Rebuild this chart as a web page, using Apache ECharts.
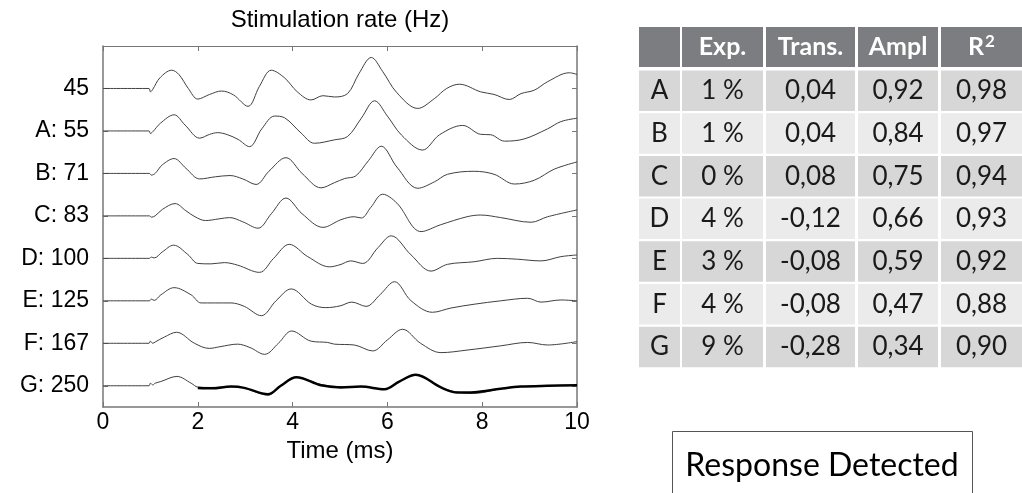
<!DOCTYPE html>
<html>
<head>
<meta charset="utf-8">
<script src="https://cdn.jsdelivr.net/npm/echarts@6/dist/echarts.min.js"></script>
<style>
  html, body { margin: 0; padding: 0; background: #fff; }
  #main { width: 1022px; height: 493px; }
</style>
</head>
<body>
<div id="main"></div>
<script>
// trace labels, top to bottom
const rateLabels = ["45", "A: 55", "B: 71", "C: 83", "D: 100", "E: 125", "F: 167", "G: 250"];
const xTicks = [0, 2, 4, 6, 8, 10];

// waveforms: [time ms, amplitude], amplitude in units of trace spacing
const trace45 = [[0,0],[0.97,0],[1.0,-0.08],[1.05,-0.02],[1.2,0.25],[1.45,0.43],[1.6,0.33],[1.8,0.0],[2.0,-0.25],[2.25,-0.14],[2.5,-0.06],[2.75,-0.15],[3.06,-0.42],[3.3,0.05],[3.55,0.43],[3.83,0.25],[4.1,-0.08],[4.39,-0.27],[4.64,-0.17],[4.88,-0.2],[5.16,-0.12],[5.4,0.35],[5.66,0.73],[5.9,0.4],[6.2,-0.1],[6.64,-0.47],[6.99,-0.24],[7.25,0.0],[7.52,0.1],[7.97,-0.08],[8.25,-0.14],[8.57,-0.26],[8.82,-0.12],[9.1,-0.04],[9.38,0.16],[9.84,0.37],[10,0.33]];
const traceA = [[0,0],[0.97,0],[1.0,-0.06],[1.05,-0.02],[1.21,0.18],[1.5,0.38],[1.73,0.14],[2.04,-0.17],[2.25,-0.08],[2.42,-0.04],[2.63,-0.09],[2.85,-0.2],[3.09,-0.37],[3.35,0.05],[3.62,0.35],[3.83,0.31],[4.18,-0.05],[4.46,-0.29],[4.88,-0.21],[5.16,-0.13],[5.45,0.3],[5.73,0.71],[6.0,0.35],[6.3,-0.1],[6.74,-0.45],[7.1,-0.09],[7.59,0.13],[7.97,-0.08],[8.18,-0.09],[8.47,-0.24],[8.88,-0.19],[9.38,0.05],[9.66,0.22],[10,0.3]];
const traceB = [[0,0],[0.98,0],[1.02,-0.04],[1.1,0.0],[1.25,0.2],[1.5,0.35],[1.75,0.12],[2.04,-0.13],[2.37,-0.08],[2.68,-0.05],[2.95,-0.13],[3.23,-0.26],[3.5,0.05],[3.86,0.37],[4.2,0.0],[4.6,-0.34],[4.88,-0.22],[5.1,-0.12],[5.33,-0.06],[5.6,0.3],[5.87,0.64],[6.2,0.15],[6.64,-0.35],[6.99,-0.2],[7.27,-0.02],[7.83,0.05],[8.25,-0.02],[8.68,-0.25],[9.1,-0.16],[9.52,0.1],[10,0.27]];
const traceC = [[0,0],[0.98,0],[1.02,-0.03],[1.1,0.0],[1.25,0.15],[1.52,0.29],[1.75,0.12],[1.94,-0.02],[2.16,-0.11],[2.45,-0.07],[2.67,-0.04],[2.95,-0.14],[3.27,-0.29],[3.55,0.05],[3.86,0.42],[4.2,0.05],[4.64,-0.27],[5.02,-0.09],[5.3,-0.02],[5.45,-0.05],[5.65,0.2],[5.9,0.51],[6.2,0.3],[6.71,-0.37],[7.12,-0.21],[7.68,-0.02],[7.97,0.02],[8.39,-0.04],[9.03,-0.15],[9.38,-0.02],[10,0.14]];
const traceD = [[0,0],[0.98,0],[1.02,0.03],[1.08,0.01],[1.25,0.15],[1.49,0.31],[1.79,0.09],[2.0,-0.12],[2.28,-0.13],[2.56,-0.1],[2.84,-0.16],[3.3,-0.33],[3.6,0.0],[3.93,0.33],[4.32,0.04],[4.78,-0.2],[5.0,-0.15],[5.23,-0.06],[5.48,-0.12],[5.8,0.25],[6.08,0.53],[6.5,0.08],[6.92,-0.3],[7.27,-0.14],[7.83,-0.08],[8.32,0.0],[8.74,-0.02],[9.24,-0.06],[9.66,0.04],[10,0.08]];
const traceE = [[0,0],[0.98,0],[1.02,0.04],[1.08,0.01],[1.22,0.14],[1.5,0.31],[1.86,0.14],[2.07,-0.05],[2.35,-0.05],[2.7,-0.05],[2.98,-0.13],[3.34,-0.35],[3.65,0.0],[3.97,0.28],[4.4,-0.08],[4.7,-0.16],[5.0,-0.12],[5.25,-0.03],[5.55,-0.13],[5.85,0.15],[6.15,0.45],[6.5,0.0],[6.95,-0.27],[7.34,-0.17],[7.83,-0.08],[8.39,0.0],[8.96,0.06],[9.24,-0.03],[9.66,0.02],[10,0.0]];
const traceF = [[0,0],[0.97,0],[1.0,0.05],[1.05,0.0],[1.1,0.03],[1.3,0.15],[1.55,0.26],[1.93,0.0],[2.24,-0.12],[2.47,-0.08],[2.84,-0.02],[3.1,-0.1],[3.41,-0.26],[3.7,0.0],[3.98,0.29],[4.39,0.05],[4.74,0.02],[4.88,-0.02],[5.3,-0.04],[5.69,-0.18],[6.0,0.08],[6.32,0.33],[6.7,0.0],[7.13,-0.22],[7.68,-0.16],[8.39,-0.06],[8.96,0.02],[9.38,-0.04],[10,0.04]];
const traceG = [[0,0],[0.97,0],[1.0,0.06],[1.05,0.02],[1.1,0.06],[1.22,0.1],[1.56,0.22],[1.86,0.06],[2.0,-0.03],[2.3,-0.04],[2.7,-0.02],[2.98,-0.05],[3.48,-0.22],[3.75,0.0],[4.08,0.2],[4.6,0.03],[5.02,-0.02],[5.44,-0.02],[5.94,-0.08],[6.25,0.1],[6.6,0.25],[7.13,-0.04],[7.48,-0.15],[7.83,-0.18],[8.39,-0.07],[8.81,-0.02],[9.38,0.0],[10,0.01]];
// thick averaged response on the 250 Hz trace
const traceGfit = [[2.0,-0.05],[2.3,-0.06],[2.7,-0.02],[2.98,-0.05],[3.48,-0.2],[3.75,0.0],[4.08,0.2],[4.6,0.01],[5.02,-0.04],[5.44,-0.02],[5.94,-0.08],[6.25,0.1],[6.6,0.26],[7.13,-0.04],[7.48,-0.16],[7.83,-0.15],[8.39,-0.07],[8.81,-0.02],[9.38,0.0],[10,0.01]];

const traces = [trace45, traceA, traceB, traceC, traceD, traceE, traceF, traceG];

// table on the right
const tableHeader = ["", "Exp.", "Trans.", "Ampl", "R{sup|2}"];
const rowNames = ["A", "B", "C", "D", "E", "F", "G"];
const expVals = ["1 %", "1 %", "0 %", "4 %", "3 %", "4 %", "9 %"];
const transVals = ["0,04", "0,04", "0,08", "-0,12", "-0,08", "-0,08", "-0,28"];
const amplVals = ["0,92", "0,84", "0,75", "0,66", "0,59", "0,47", "0,34"];
const r2Vals = ["0,98", "0,97", "0,94", "0,93", "0,92", "0,88", "0,90"];

const chart = echarts.init(document.getElementById("main"));

const n = traces.length;
const offsetOf = i => n - 1 - i; // G sits at 0, 45 at top
const series = traces.map((tr, i) => ({
  type: "line",
  data: tr.map(p => [p[0], p[1] + offsetOf(i)]),
  smooth: 0.35,
  symbol: "none",
  silent: true,
  lineStyle: { color: "#404040", width: 1 }
}));
series.push({
  type: "line",
  data: traceGfit.map(p => [p[0], p[1]]),
  smooth: 0.35,
  symbol: "none",
  silent: true,
  lineStyle: { color: "#000", width: 2.5 }
});

// table drawn with graphic rects / texts
const colX = [639, 682, 766, 858, 941];
const colW = [41, 81, 89, 80, 81];
const headTop = 27, headH = 40;
const rowTop0 = 70.5, rowStep = 42.7, rowH = 40.5;
const fontFam = "Lato, 'Open Sans', sans-serif";
const graphics = [];
function cell(x, y, w, h, fill, text, color, size, weight) {
  graphics.push({ type: "rect", shape: { x: x, y: y, width: w, height: h }, style: { fill: fill }, silent: true });
  graphics.push({
    type: "text", x: x + w / 2, y: y + h / 2,
    style: {
      text: text, fill: color, fontFamily: fontFam, fontSize: size, fontWeight: weight,
      align: "center", verticalAlign: "middle",
      rich: { sup: { fontFamily: fontFam, fontSize: 17, fontWeight: weight, fill: color, verticalAlign: "top", padding: [0, 0, 10, 1] } }
    },
    silent: true
  });
}
tableHeader.forEach((h, c) => cell(colX[c], headTop, colW[c], headH, "#7c7d80", h, "#fff", 25, "bold"));
rowNames.forEach((r, i) => {
  const y = rowTop0 + i * rowStep;
  const fill = i % 2 === 0 ? "#d7d7d7" : "#ebebeb";
  const vals = [r, expVals[i], transVals[i], amplVals[i], r2Vals[i]];
  vals.forEach((v, c) => cell(colX[c], y, colW[c], rowH, fill, v, "#1a1a1a", 26, "normal"));
});
// "Response Detected" box
graphics.push({ type: "rect", shape: { x: 672.5, y: 431.5, width: 300, height: 80 }, style: { fill: "#fff", stroke: "#555", lineWidth: 1 }, silent: true });
graphics.push({ type: "text", x: 822, y: 466, style: { text: "Response Detected", fill: "#000", fontFamily: fontFam, fontSize: 32, align: "center", verticalAlign: "middle" }, silent: true });

const axisFont = "Liberation Sans";
chart.setOption({
  animation: false,
  backgroundColor: "#fff",
  grid: { left: 103, right: 445, top: 46, bottom: 86, show: false },
  xAxis: [
    {
      type: "value", min: 0, max: 10, interval: 2, position: "bottom",
      name: "Time (ms)", nameLocation: "middle", nameGap: 28,
      nameTextStyle: { fontFamily: axisFont, fontSize: 24, color: "#000" },
      axisLine: { onZero: false, lineStyle: { color: "#777", width: 1.5 } },
      axisTick: { inside: true, length: 5, lineStyle: { color: "#777" } },
      axisLabel: { fontFamily: axisFont, fontSize: 23, color: "#000", margin: 4 },
      splitLine: { show: false }
    },
    {
      type: "value", min: 0, max: 10, interval: 2, position: "top",
      name: "Stimulation rate (Hz)", nameLocation: "middle", nameGap: 14,
      nameTextStyle: { fontFamily: axisFont, fontSize: 24, color: "#000" },
      axisLine: { onZero: false, lineStyle: { color: "#777", width: 1 } },
      axisTick: { inside: true, length: 5, lineStyle: { color: "#777" } },
      axisLabel: { show: false },
      splitLine: { show: false }
    }
  ],
  yAxis: [
    {
      type: "value", min: -0.5, max: 8, position: "left",
      axisLine: { show: true, onZero: false, lineStyle: { color: "#777", width: 1.5 } },
      axisTick: { show: true, inside: true, length: 5, customValues: rateLabels.map((_, i) => i), lineStyle: { color: "#777" } },
      axisLabel: {
        customValues: rateLabels.map((_, i) => i),
        formatter: v => rateLabels[n - 1 - Math.round(v)],
        fontFamily: axisFont, fontSize: 23, color: "#000", margin: 14
      },
      splitLine: { show: false }
    },
    {
      type: "value", min: -0.5, max: 8, position: "right",
      axisLine: { show: true, onZero: false, lineStyle: { color: "#777", width: 1.5 } },
      axisTick: { show: true, inside: true, length: 5, customValues: rateLabels.map((_, i) => i), lineStyle: { color: "#777" } },
      axisLabel: { show: false },
      splitLine: { show: false }
    }
  ],
  series: series,
  graphic: graphics
});
</script>
</body>
</html>
